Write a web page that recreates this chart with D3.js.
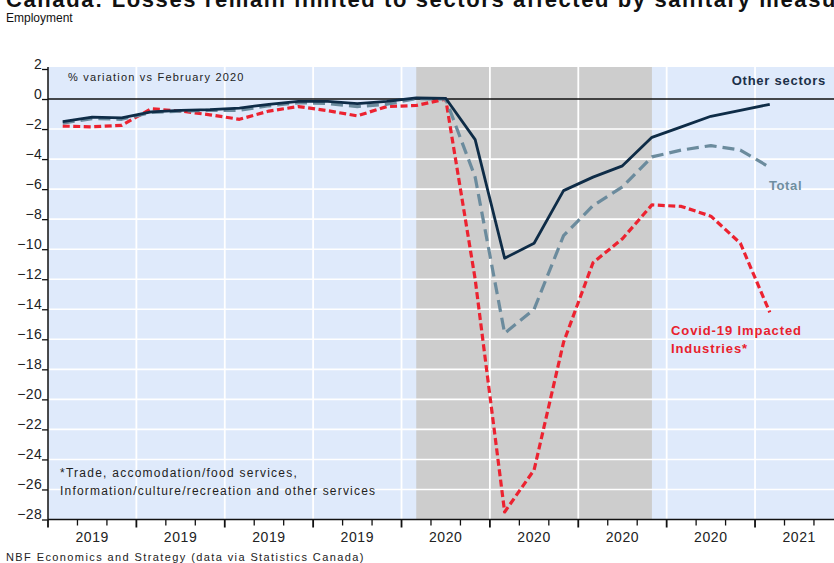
<!DOCTYPE html>
<html>
<head>
<meta charset="utf-8">
<script src="https://cdn.jsdelivr.net/npm/d3@7"></script>
<style>
  body { margin: 0; background: #fff; }
  svg { display: block; font-family: 'Liberation Sans', Arial, sans-serif; }
</style>
</head>
<body>
<svg id="chart"></svg>
<script>
// Monthly observations, Jan 2019 - Jan 2021
const months = [
  '2019-01', '2019-02', '2019-03', '2019-04', '2019-05', '2019-06',
  '2019-07', '2019-08', '2019-09', '2019-10', '2019-11', '2019-12',
  '2020-01', '2020-02', '2020-03', '2020-04', '2020-05', '2020-06',
  '2020-07', '2020-08', '2020-09', '2020-10', '2020-11', '2020-12',
  '2021-01'
];
const otherSectors = [
  -1.5, -1.2, -1.25, -0.85, -0.75, -0.7, -0.6, -0.35, -0.15, -0.15, -0.3, -0.15,
  0.07, 0.05, -2.7, -10.6, -9.6, -6.1, -5.2, -4.45, -2.55, -1.85, -1.15, -0.75,
  -0.35
];
const total = [
  -1.6, -1.3, -1.35, -0.9, -0.8, -0.75, -0.75, -0.45, -0.25, -0.3, -0.5, -0.35,
  0.03, 0.0, -5.2, -15.6, -14.0, -9.1, -7.1, -5.85, -3.85, -3.4, -3.1, -3.4,
  -4.55
];
const covidImpacted = [
  -1.8, -1.85, -1.75, -0.65, -0.8, -1.05, -1.35, -0.8, -0.5, -0.78, -1.12, -0.5,
  -0.43, 0.0, -12.0, -27.5, -24.7, -16.2, -10.9, -9.3, -7.05, -7.15, -7.8, -9.6,
  -14.2
];
const shadedPeriod = ['2020-01', '2020-09'];
const quarterLabels = ['2019', '2019', '2019', '2019', '2020', '2020', '2020', '2020', '2021'];
const yTicks = d3.range(2, -29, -2);

const width = 834,
      height = 563,
      margin = { top: 67, right: 0, bottom: 43, left: 48 };

const svg = d3.select('#chart')
  .attr('width', width)
  .attr('height', height);

const monthIndex = m => months.indexOf(m);

// Month slots: the plot continues past the right edge of the picture
const x = d3.scaleLinear()
  .domain([0, 27])
  .range([margin.left, margin.left + 27 * 29.46]);

const y = d3.scaleLinear()
  .domain([-28, 2])
  .range([height - margin.bottom - 0.5, margin.top + 2]);

const plotTop = margin.top,
      plotBottom = y(-28);

// Background
svg.append('rect')
  .attr('x', x(0))
  .attr('y', plotTop)
  .attr('width', width - x(0))
  .attr('height', plotBottom - plotTop)
  .attr('fill', '#dfeafb');

// Shaded period
svg.append('rect')
  .attr('x', x(monthIndex(shadedPeriod[0]) + 0.5))
  .attr('y', plotTop)
  .attr('width', x(monthIndex(shadedPeriod[1]) + 0.5) - x(monthIndex(shadedPeriod[0]) + 0.5))
  .attr('height', plotBottom - plotTop)
  .attr('fill', '#cdcdcd');

// Grid
const grid = svg.append('g');

grid.selectAll('line.h')
  .data(yTicks.filter(d => d !== 0 && d !== -28 && d !== 2))
  .enter()
  .append('line')
    .attr('class', 'h')
    .attr('x1', x(0))
    .attr('x2', width)
    .attr('y1', d => y(d))
    .attr('y2', d => y(d))
    .attr('stroke', '#fff')
    .attr('stroke-width', 1.6);

grid.selectAll('line.v')
  .data(d3.range(1, quarterLabels.length))
  .enter()
  .append('line')
    .attr('class', 'v')
    .attr('x1', d => x(d * 3))
    .attr('x2', d => x(d * 3))
    .attr('y1', plotTop)
    .attr('y2', plotBottom)
    .attr('stroke', '#fff')
    .attr('stroke-width', 1.8);

// Zero line
svg.append('line')
  .attr('x1', x(0))
  .attr('x2', width)
  .attr('y1', y(0))
  .attr('y2', y(0))
  .attr('stroke', '#111')
  .attr('stroke-width', 1.5);

// Y axis - labels sit just above their tick
const yAxis = svg.append('g')
  .attr('transform', `translate(${x(0)},0)`)
  .call(d3.axisLeft(y).tickValues(yTicks).tickSize(6).tickFormat(d3.format('d')));

yAxis.select('.domain')
  .attr('stroke', '#111')
  .attr('stroke-width', 1.5)
  .attr('d', `M0,${plotTop}V${plotBottom}`);

yAxis.selectAll('.tick line')
  .attr('stroke', '#111')
  .attr('stroke-width', 1.3);

yAxis.selectAll('.tick text')
  .attr('x', -6)
  .attr('dy', '-0.05em')
  .style('font-size', '14px')
  .style('letter-spacing', '0.3px')
  .style('font-family', "'Liberation Sans', Arial, sans-serif")
  .attr('fill', '#222');

// X axis
const xAxis = svg.append('g')
  .attr('transform', `translate(0,${plotBottom})`);

xAxis.append('line')
  .attr('x1', x(0))
  .attr('x2', width)
  .attr('stroke', '#111')
  .attr('stroke-width', 1.5);

xAxis.selectAll('line.tick')
  .data(d3.range(0, 28))
  .enter()
  .append('line')
    .attr('class', 'tick')
    .attr('x1', d => x(d))
    .attr('x2', d => x(d))
    .attr('y1', 0)
    .attr('y2', d => d % 3 === 0 ? 8 : 6)
    .attr('stroke', '#111')
    .attr('stroke-width', d => d % 3 === 0 ? 1.8 : 1.3);

xAxis.selectAll('text')
  .data(quarterLabels)
  .enter()
  .append('text')
    .attr('x', (d, i) => x(i * 3 + 1.5))
    .attr('y', 22)
    .attr('text-anchor', 'middle')
    .style('font-size', '14px')
    .style('letter-spacing', '0.6px')
    .attr('fill', '#222')
    .text(d => d);

// Lines
const line = d3.line()
  .x((d, i) => x(i + 0.5))
  .y(d => y(d));

const series = [
  { values: covidImpacted, color: '#ec2230', width: 3.2, dash: '7,3.5' },
  { values: total, color: '#6b8b9d', width: 3.2, dash: '12,6' },
  { values: otherSectors, color: '#0e2c47', width: 2.8, dash: null }
];

svg.append('g')
  .selectAll('path')
  .data(series)
  .enter()
  .append('path')
    .attr('d', d => line(d.values))
    .attr('fill', 'none')
    .attr('stroke', d => d.color)
    .attr('stroke-width', d => d.width)
    .attr('stroke-dasharray', d => d.dash)
    .attr('stroke-linejoin', 'round');

// Annotations
const notes = svg.append('g');

notes.append('text')
  .attr('x', 68)
  .attr('y', 81)
  .style('font-size', '11px')
  .style('letter-spacing', '1.2px')
  .attr('fill', '#222')
  .text('% variation vs February 2020');

notes.append('text')
  .attr('x', 826)
  .attr('y', 85)
  .attr('text-anchor', 'end')
  .style('font-size', '13px')
  .style('font-weight', 'bold')
  .style('letter-spacing', '0.75px')
  .attr('fill', '#1c3048')
  .text('Other sectors');

notes.append('text')
  .attr('x', 769)
  .attr('y', 190)
  .style('font-size', '13px')
  .style('font-weight', 'bold')
  .style('letter-spacing', '0.6px')
  .attr('fill', '#6f8ea0')
  .text('Total');

notes.append('text')
  .attr('x', 671)
  .attr('y', 335)
  .style('font-size', '13px')
  .style('font-weight', 'bold')
  .style('letter-spacing', '0.9px')
  .attr('fill', '#e8212d')
  .text('Covid-19 Impacted');

notes.append('text')
  .attr('x', 671)
  .attr('y', 353)
  .style('font-size', '13px')
  .style('font-weight', 'bold')
  .style('letter-spacing', '0.9px')
  .attr('fill', '#e8212d')
  .text('Industries*');

notes.append('text')
  .attr('x', 60)
  .attr('y', 477)
  .style('font-size', '12px')
  .style('letter-spacing', '1.25px')
  .attr('fill', '#222')
  .text('*Trade, accomodation/food services,');

notes.append('text')
  .attr('x', 60)
  .attr('y', 495)
  .style('font-size', '12px')
  .style('letter-spacing', '1.2px')
  .attr('fill', '#222')
  .text('Information/culture/recreation and other services');

// Titles and source
svg.append('text')
  .attr('x', 6)
  .attr('y', 7)
  .style('font-size', '22px')
  .style('font-weight', 'bold')
  .style('letter-spacing', '1.6px')
  .attr('fill', '#111')
  .text('Canada: Losses remain limited to sectors affected by sanitary measures');

svg.append('text')
  .attr('x', 6)
  .attr('y', 22)
  .style('font-size', '12px')
  .attr('fill', '#111')
  .text('Employment');

svg.append('text')
  .attr('x', 6)
  .attr('y', 561)
  .style('font-size', '11px')
  .style('letter-spacing', '1.4px')
  .attr('fill', '#222')
  .text('NBF Economics and Strategy (data via Statistics Canada)');
</script>
</body>
</html>
